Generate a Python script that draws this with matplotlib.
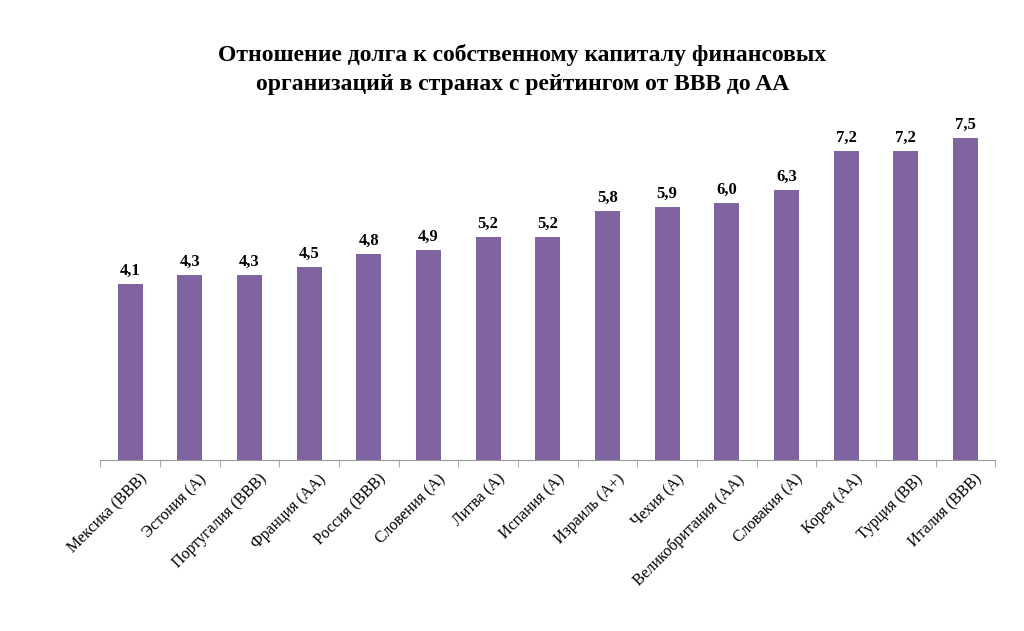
import matplotlib.pyplot as plt
import numpy as np

countries = ['Мексика (BBB)', 'Эстония (A)', 'Португалия (BBB)', 'Франция (AA)',
             'Россия (BBB)', 'Словения (A)', 'Литва (A)', 'Испания (A)',
             'Израиль (A+)', 'Чехия (A)', 'Великобритания (AA)', 'Словакия (A)',
             'Корея (AA)', 'Турция (BB)', 'Италия (BBB)']
ratio = [4.1, 4.3, 4.3, 4.5, 4.8, 4.9, 5.2, 5.2, 5.8, 5.9, 6.0, 6.3, 7.2, 7.2, 7.5]

plt.rcParams['font.family'] = 'Liberation Serif'
fig = plt.figure(figsize=(10.24, 6.31), dpi=100)
ax = fig.add_axes([0.098, 0.271, 0.874, 0.544])

x = np.arange(len(countries))
ax.bar(x, ratio, width=0.42, color='#8064A2')
for xi, v in zip(x, ratio):
    ax.text(xi, v + 0.12, f'{v:.1f}'.replace('.', ','), ha='center', va='bottom',
            fontsize=12, fontweight='bold', clip_on=False)

ax.set_xlim(-0.5, len(countries) - 0.5)
ax.set_ylim(0, 8)
ax.set_yticks([])
ax.set_xticks(x + 0.15)
ax.set_xticklabels(countries, rotation=45, ha='right', rotation_mode='anchor', fontsize=11.5)
ax.tick_params(axis='x', which='major', length=0, pad=8)
ax.set_xticks(np.arange(-0.5, len(countries)), minor=True)
ax.tick_params(axis='x', which='minor', length=5, color='#999999')
for s in ['top', 'right', 'left']:
    ax.spines[s].set_visible(False)
ax.spines['bottom'].set_color('#999999')

fig.text(0.51, 0.89, 'Отношение долга к собственному капиталу финансовых\n'
         'организаций в странах с рейтингом от BBB до AA',
         ha='center', va='center', fontsize=17, fontweight='bold', linespacing=1.45)

fig.savefig('out.png', dpi=100)
